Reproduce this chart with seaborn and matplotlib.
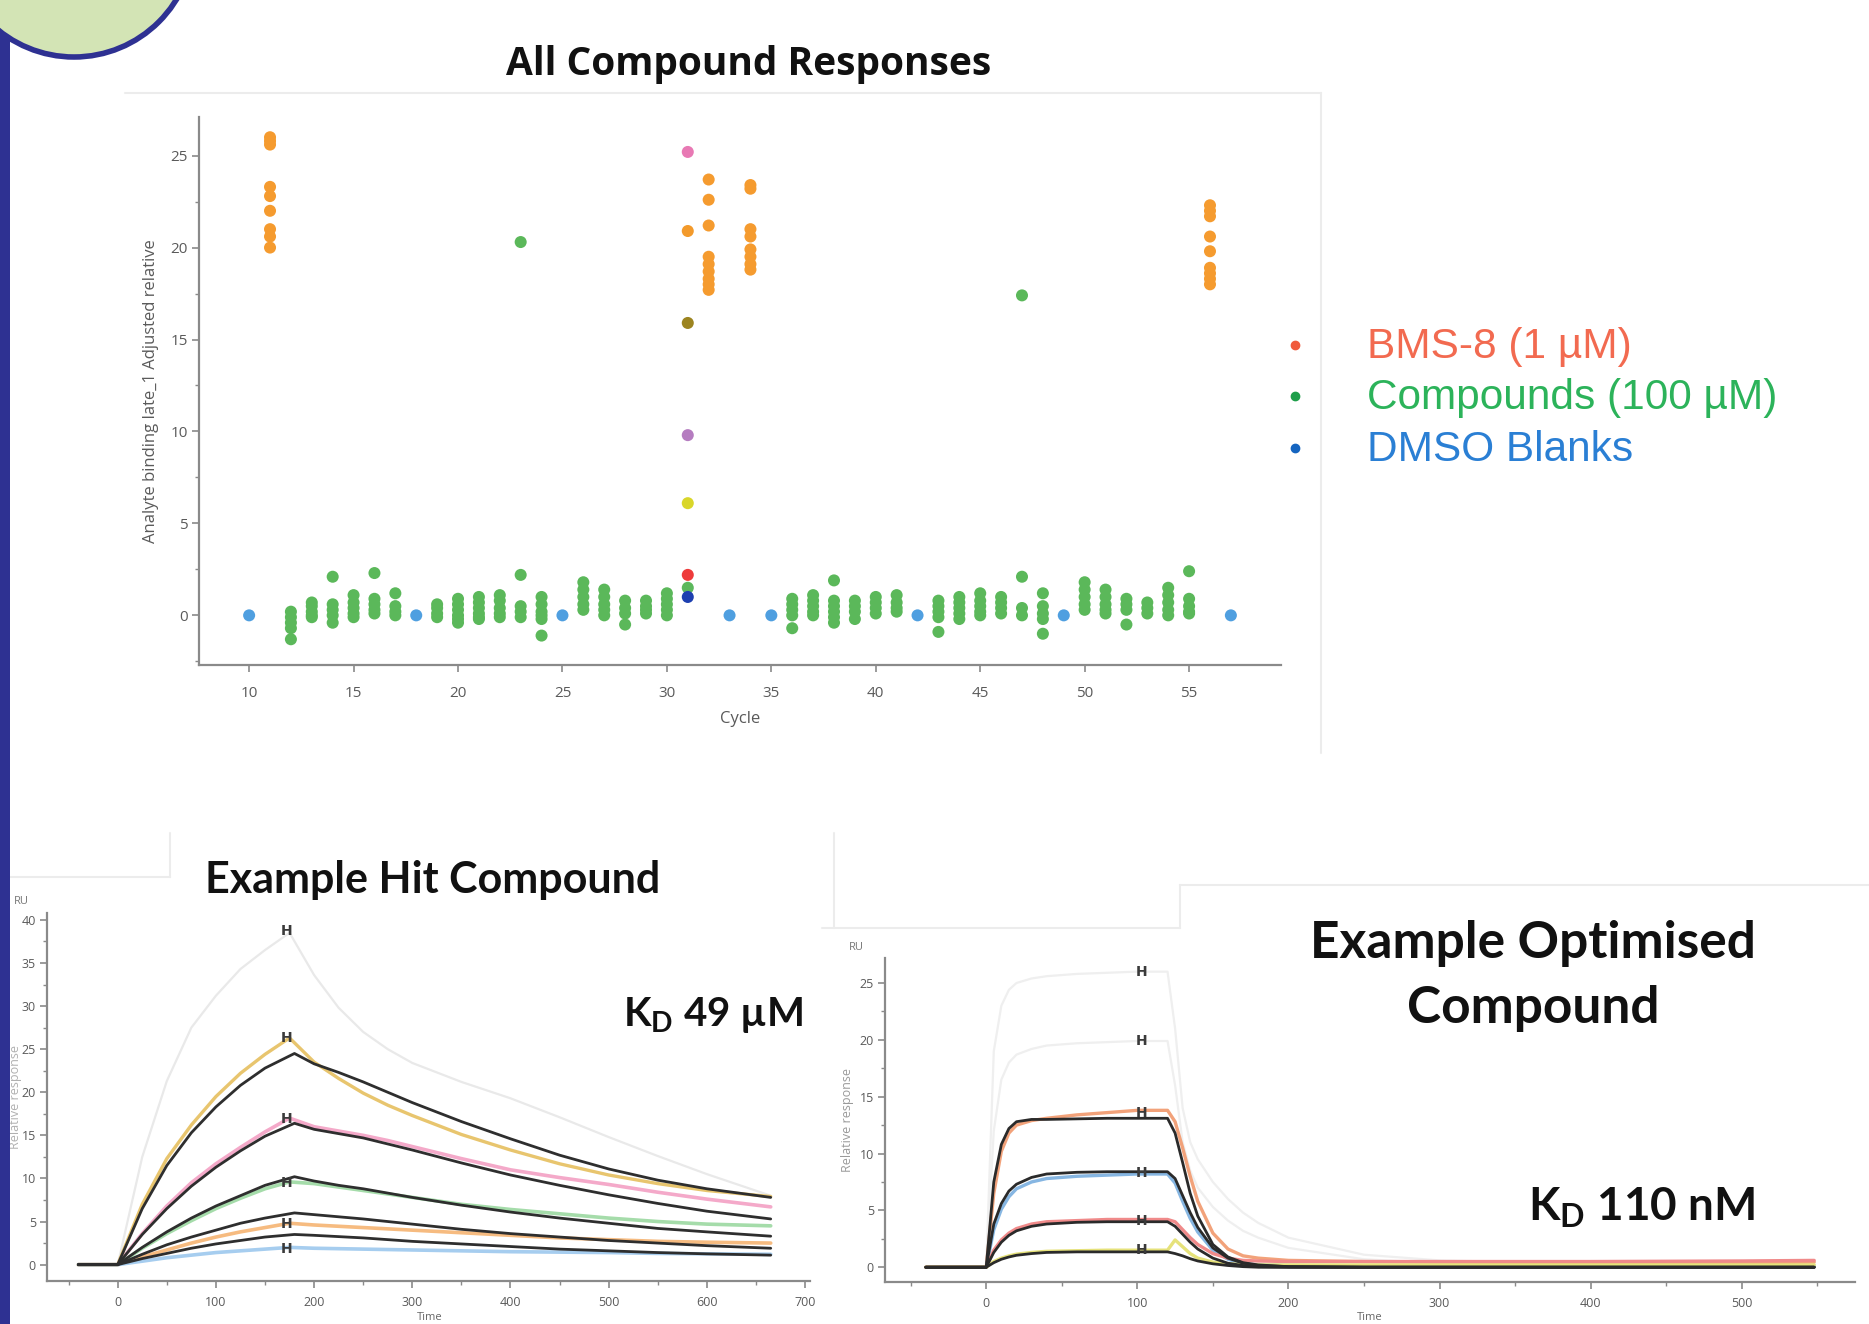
# All compound responses + two example sensorgrams (hit and optimised compound)

import numpy as np
import pandas as pd
import matplotlib
matplotlib.use('Agg')
import matplotlib.pyplot as plt
import seaborn as sns
from matplotlib.lines import Line2D
from matplotlib.patches import Circle, Rectangle
from matplotlib.transforms import IdentityTransform


# DATA: top scatter (cycle -> responses)
bms8_resp = {
    11: [26.0, 25.8, 25.6, 23.3, 22.8, 22.0, 21.0, 20.6, 20.0],
    32: [23.7, 22.6, 21.2, 19.5, 19.1, 18.7, 18.3, 18.0, 17.7],
    34: [23.4, 23.2, 21.0, 20.6, 19.9, 19.5, 19.1, 18.8],
    56: [22.3, 22.0, 21.7, 20.6, 19.8, 18.9, 18.6, 18.3, 18.0],
}
compound_resp = {
    12: [0.2, -0.1, -0.4, -0.7, -1.3], 13: [0.7, 0.5, 0.2, 0.0, -0.1],
    14: [2.1, 0.6, 0.3, 0.0, -0.4], 15: [1.1, 0.7, 0.4, 0.1, -0.1],
    16: [2.3, 0.9, 0.6, 0.3, 0.1], 17: [1.2, 0.5, 0.2, 0.0],
    19: [0.6, 0.4, 0.1, -0.1], 20: [0.9, 0.6, 0.3, 0.0, -0.2, -0.4],
    21: [1.0, 0.7, 0.4, 0.1, -0.1, -0.2], 22: [1.1, 0.8, 0.4, 0.1, -0.1],
    23: [20.3, 2.2, 0.5, 0.2, -0.1], 24: [1.0, 0.6, 0.2, 0.0, -0.2, -1.1],
    26: [1.8, 1.4, 1.0, 0.6, 0.3], 27: [1.4, 1.0, 0.6, 0.3, 0.0],
    28: [0.8, 0.4, 0.1, -0.5], 29: [0.8, 0.5, 0.3, 0.1],
    30: [1.2, 0.9, 0.6, 0.3, 0.0], 36: [0.9, 0.6, 0.3, 0.0, -0.7],
    37: [1.1, 0.8, 0.5, 0.2, 0.0], 38: [1.9, 0.8, 0.5, 0.2, -0.1, -0.4],
    39: [0.8, 0.5, 0.2, -0.2], 40: [1.0, 0.7, 0.4, 0.1],
    41: [1.1, 0.7, 0.4, 0.2], 43: [0.8, 0.5, 0.2, -0.1, -0.9],
    44: [1.0, 0.7, 0.4, 0.1, -0.2], 45: [1.2, 0.8, 0.5, 0.2, 0.0],
    46: [1.0, 0.7, 0.4, 0.1], 47: [17.4, 2.1, 0.4, 0.0],
    48: [1.2, 0.5, 0.1, -0.2, -1.0], 50: [1.8, 1.4, 1.0, 0.6, 0.3],
    51: [1.4, 1.0, 0.6, 0.3, 0.1], 52: [0.9, 0.6, 0.3, -0.5],
    53: [0.7, 0.4, 0.1], 54: [1.5, 1.1, 0.7, 0.3, 0.0],
    55: [2.4, 0.9, 0.5, 0.2, 0.1],
}
dmso_cycles = [10, 18, 25, 33, 35, 42, 49, 57]
dmso_resp = [0.0, 0.0, 0.0, 0.0, 0.0, 0.0, 0.0, 0.0]
c31_resp = [25.2, 20.9, 15.9, 9.8, 6.1, 2.2, 1.5, 1.0]
c31_colors = ['#e879b4', '#f39a2b', '#9c8420', '#b57cc0', '#d9d62a', '#ee3b3b', '#5cb85c', '#1d3fb0']

legend_labels = ['BMS-8 (1 µM)', 'Compounds (100 µM)', 'DMSO Blanks']
legend_dot = ['#f05a3c', '#1e9e4a', '#1565c0']
legend_txt = ['#f26a50', '#2cb35a', '#2a7fd4']

# DATA: example hit compound sensorgram
t_hit = [-40, 0, 25, 50, 75, 100, 125, 150, 175, 200, 225, 250, 275, 300, 350, 400, 450, 500, 550, 600, 665]
t_hit_fit = [-40, 0, 25, 50, 75, 100, 125, 150, 180, 200, 225, 250, 275, 300, 350, 400, 450, 500, 550, 600, 665]
hit_gray = [0, 0, 12.5, 21.3, 27.5, 31.2, 34.3, 36.5, 38.5, 33.6, 29.8, 27.0, 25.0, 23.4, 21.2, 19.3, 17.1, 14.8, 12.6, 10.5, 8.0]
hit_yellow = [0, 0, 7.0, 12.3, 16.2, 19.5, 22.2, 24.4, 26.3, 23.5, 21.6, 19.9, 18.5, 17.3, 15.1, 13.3, 11.7, 10.4, 9.4, 8.6, 7.9]
hit_pink = [0, 0, 3.6, 6.8, 9.5, 11.7, 13.6, 15.4, 17.0, 16.0, 15.5, 15.0, 14.4, 13.7, 12.3, 11.0, 10.1, 9.3, 8.4, 7.6, 6.7]
hit_green = [0, 0, 1.9, 3.6, 5.1, 6.5, 7.7, 8.8, 9.6, 9.4, 9.0, 8.6, 8.2, 7.8, 7.0, 6.4, 5.9, 5.4, 5.0, 4.7, 4.5]
hit_orange = [0, 0, 0.9, 1.7, 2.5, 3.2, 3.8, 4.3, 4.8, 4.6, 4.45, 4.3, 4.15, 4.0, 3.7, 3.4, 3.1, 2.9, 2.7, 2.6, 2.5]
hit_blue = [0, 0, 0.4, 0.8, 1.1, 1.4, 1.6, 1.8, 2.0, 1.9, 1.85, 1.8, 1.75, 1.7, 1.6, 1.5, 1.45, 1.4, 1.3, 1.25, 1.2]
hit_fit1 = [0, 0, 6.5, 11.5, 15.3, 18.3, 20.8, 22.8, 24.5, 23.3, 22.3, 21.2, 20.0, 18.8, 16.6, 14.6, 12.7, 11.1, 9.8, 8.8, 7.8]
hit_fit2 = [0, 0, 3.5, 6.5, 9.1, 11.3, 13.2, 14.9, 16.4, 15.7, 15.2, 14.7, 14.0, 13.3, 11.8, 10.4, 9.2, 8.1, 7.1, 6.2, 5.3]
hit_fit3 = [0, 0, 2.0, 3.8, 5.4, 6.8, 8.0, 9.2, 10.2, 9.7, 9.2, 8.8, 8.3, 7.8, 6.9, 6.1, 5.4, 4.8, 4.2, 3.8, 3.3]
hit_fit4 = [0, 0, 1.2, 2.3, 3.2, 4.0, 4.8, 5.4, 6.0, 5.8, 5.55, 5.3, 5.0, 4.7, 4.1, 3.6, 3.2, 2.8, 2.5, 2.2, 1.9]
hit_fit5 = [0, 0, 0.7, 1.3, 1.9, 2.4, 2.8, 3.2, 3.5, 3.4, 3.25, 3.1, 2.9, 2.7, 2.4, 2.1, 1.8, 1.6, 1.4, 1.25, 1.1]
hit_marks = [38.7, 26.3, 16.9, 9.5, 4.7, 1.8]

# DATA: example optimised compound sensorgram
t_opt = [-40, 0, 5, 10, 15, 20, 30, 40, 60, 80, 100, 120, 125, 130, 135, 140, 150, 160, 170, 180, 200, 250, 300, 400, 500, 548]
opt_gray1 = [0, 0, 19.0, 23.0, 24.4, 25.0, 25.4, 25.6, 25.8, 25.9, 26.0, 26.0, 21.0, 14.0, 11.0, 9.5, 7.5, 6.0, 4.8, 3.9, 2.6, 1.1, 0.6, 0.3, 0.25, 0.2]
opt_gray2 = [0, 0, 12.0, 16.5, 18.0, 18.7, 19.2, 19.5, 19.7, 19.8, 19.9, 19.9, 16.0, 11.0, 8.5, 7.0, 5.3, 4.1, 3.2, 2.6, 1.7, 0.7, 0.35, 0.2, 0.15, 0.1]
opt_orange = [0, 0, 6.5, 10.2, 11.8, 12.5, 12.9, 13.1, 13.4, 13.6, 13.8, 13.8, 12.8, 10.5, 8.0, 5.8, 3.0, 1.6, 1.0, 0.8, 0.6, 0.5, 0.45, 0.4, 0.4, 0.45]
opt_blue = [0, 0, 3.3, 5.1, 6.2, 6.9, 7.5, 7.8, 8.0, 8.1, 8.2, 8.2, 7.4, 5.8, 4.3, 3.1, 1.5, 0.7, 0.35, 0.2, 0.15, 0.1, 0.1, 0.1, 0.1, 0.1]
opt_red = [0, 0, 1.5, 2.4, 3.0, 3.4, 3.8, 4.0, 4.1, 4.2, 4.2, 4.2, 4.0, 3.3, 2.6, 2.0, 1.2, 0.8, 0.6, 0.55, 0.5, 0.5, 0.5, 0.5, 0.55, 0.6]
opt_yellow = [0, 0, 0.5, 0.8, 1.0, 1.15, 1.3, 1.4, 1.45, 1.5, 1.5, 1.5, 2.4, 1.8, 1.2, 0.8, 0.45, 0.3, 0.25, 0.2, 0.2, 0.2, 0.2, 0.2, 0.2, 0.2]
opt_fit1 = [0, 0, 7.5, 10.8, 12.2, 12.8, 13.0, 13.0, 13.05, 13.1, 13.1, 13.1, 11.8, 9.2, 6.5, 4.5, 2.0, 0.9, 0.4, 0.2, 0.05, 0, 0, 0, 0, 0]
opt_fit2 = [0, 0, 3.8, 5.6, 6.7, 7.3, 7.9, 8.2, 8.35, 8.4, 8.4, 8.4, 7.8, 6.3, 4.8, 3.5, 1.7, 0.8, 0.35, 0.15, 0.05, 0, 0, 0, 0, 0]
opt_fit3 = [0, 0, 1.3, 2.2, 2.8, 3.2, 3.6, 3.8, 3.95, 4.0, 4.0, 4.0, 3.6, 2.9, 2.2, 1.6, 0.8, 0.35, 0.15, 0.05, 0, 0, 0, 0, 0, 0]
opt_fit4 = [0, 0, 0.4, 0.7, 0.9, 1.05, 1.2, 1.3, 1.35, 1.35, 1.35, 1.35, 1.2, 1.0, 0.75, 0.55, 0.3, 0.15, 0.05, 0, 0, 0, 0, 0, 0, 0]
opt_marks = [26.0, 19.9, 13.6, 8.3, 4.1, 1.5]


# STYLE
sns.set_theme(style='white')
plt.rcParams['font.family'] = ['Open Sans', 'DejaVu Sans']
plt.rcParams['mathtext.fontset'] = 'custom'
plt.rcParams['mathtext.rm'] = 'Lato:bold'
plt.rcParams['mathtext.it'] = 'Lato:bold'
plt.rcParams['mathtext.bf'] = 'Lato:bold'
plt.rcParams['mathtext.default'] = 'rm'

W, H = 1869, 1324
fig = plt.figure(figsize=(W / 100, H / 100), dpi=100)
fig.patch.set_facecolor('white')


def box(left, top, right, bottom):
    # figure-fraction rectangle from pixel edges (top-left origin)
    return [left / W, 1 - bottom / H, (right - left) / W, (bottom - top) / H]


def style_axis(ax, tick_size, xpad=3):
    for s in ['top', 'right']:
        ax.spines[s].set_visible(False)
    for s in ['left', 'bottom']:
        ax.spines[s].set_color('#8a8a8a')
        ax.spines[s].set_linewidth(1.6)
    ax.tick_params(which='major', direction='out', length=5, width=1.2, color='#8a8a8a',
                   labelsize=tick_size, labelcolor='#5a5a5a', pad=3, bottom=True, left=True)
    ax.tick_params(axis='x', which='major', pad=xpad)
    ax.tick_params(which='minor', direction='out', length=3, width=1, color='#8a8a8a', bottom=True, left=True)
    ax.set_facecolor('white')


# TOP: all compound responses
rows = []
for c, vals in compound_resp.items():
    for v in vals:
        rows.append((c, v, 'Compounds'))
for c, v in zip(dmso_cycles, dmso_resp):
    rows.append((c, v, 'DMSO'))
for c, vals in bms8_resp.items():
    for v in vals:
        rows.append((c, v, 'BMS-8'))
for i, v in enumerate(c31_resp):
    rows.append((31, v, 'c31_%d' % i))
df_top = pd.DataFrame(rows, columns=['cycle', 'response', 'group'])

palette = {'Compounds': '#5bb85a', 'DMSO': '#4f9fe0', 'BMS-8': '#f59b2f'}
for i, col in enumerate(c31_colors):
    palette['c31_%d' % i] = col

ax_top = fig.add_axes(box(199, 117, 1281, 665))
sns.scatterplot(data=df_top, x='cycle', y='response', hue='group', palette=palette,
                s=75, linewidth=0, legend=False, ax=ax_top)
ax_top.set_xlim(7.6, 59.4)
ax_top.set_ylim(-2.7, 27.1)
ax_top.set_xticks(range(10, 56, 5))
ax_top.set_yticks(range(0, 26, 5))
ax_top.set_yticks(np.arange(-2.5, 27, 2.5), minor=True)
style_axis(ax_top, 11, xpad=10)
ax_top.set_xlabel('Cycle', fontsize=12, color='#5a5a5a', labelpad=7)
ax_top.set_ylabel('Analyte binding late_1 Adjusted relative', fontsize=12, color='#5a5a5a', labelpad=8)

fig.text(749 / W, 1 - 64 / H, 'All Compound Responses', ha='center', va='center',
         fontsize=28, fontweight='bold', color='#111111')

# legend drawn by hand to the right of the scatter
for lab, dc, tc, y in zip(legend_labels, legend_dot, legend_txt, [345, 396, 448]):
    fig.add_artist(Line2D([1295], [H - y], marker='o', ls='', markersize=6,
                          color=dc, transform=IdentityTransform()))
    fig.text(1367 / W, 1 - (y + 2) / H, lab, ha='left', va='center', fontsize=30.5,
             color=tc, family='Liberation Sans')

# BOTTOM LEFT: example hit compound
ax_hit = fig.add_axes(box(47, 913, 810, 1281))
hit_data = [(hit_gray, '#e9e9e9', 1.6), (hit_yellow, '#e8c56e', 2.4), (hit_pink, '#f4a9c9', 2.6),
            (hit_green, '#a5dcaa', 2.6), (hit_orange, '#f6bb80', 2.6), (hit_blue, '#a6cdef', 2.6)]
for vals, col, lw in hit_data:
    sns.lineplot(x=t_hit, y=vals, color=col, lw=lw, ax=ax_hit)
for vals in [hit_fit1, hit_fit2, hit_fit3, hit_fit4, hit_fit5]:
    sns.lineplot(x=t_hit_fit, y=vals, color='#2e2e2e', lw=2.0, ax=ax_hit)
for m in hit_marks:
    ax_hit.text(172, m, 'H', ha='center', va='center', fontsize=10, fontweight='bold',
                color='#3a3a3a', family='DejaVu Sans')
ax_hit.set_xlim(-72, 705)
ax_hit.set_ylim(-1.9, 40.8)
ax_hit.set_xticks(range(0, 701, 100))
ax_hit.set_xticks(range(-50, 701, 50), minor=True)
ax_hit.set_yticks(range(0, 41, 5))
ax_hit.set_yticks(np.arange(0, 41, 2.5), minor=True)
style_axis(ax_hit, 9, xpad=6)
ax_hit.set_ylabel('Relative response', fontsize=9, color='#b0b0b0', labelpad=0)
fig.text(14 / W, 1 - 902 / H, 'RU', fontsize=8, color='#777777', va='center')
fig.text(430 / W, 0.001, 'Time', fontsize=8, color='#666666', ha='center', va='bottom')

fig.text(433 / W, 1 - 880 / H, 'Example Hit Compound', ha='center', va='center',
         fontsize=31, fontweight='bold', family='Lato', color='#111111')
fig.text(713 / W, 1 - 1015 / H, r'K$_{D}$ 49 µM', ha='center', va='center',
         fontsize=29, fontweight='bold', family='Lato', color='#111111')

# BOTTOM RIGHT: example optimised compound
ax_opt = fig.add_axes(box(885, 958, 1855, 1282))
opt_data = [(opt_gray1, '#efefef', 1.6), (opt_gray2, '#efefef', 1.6), (opt_orange, '#f2a27a', 2.4),
            (opt_blue, '#86b6e2', 2.4), (opt_red, '#f08a8a', 2.4), (opt_yellow, '#e6e27a', 2.4)]
for vals, col, lw in opt_data:
    sns.lineplot(x=t_opt, y=vals, color=col, lw=lw, ax=ax_opt)
for vals in [opt_fit1, opt_fit2, opt_fit3, opt_fit4]:
    sns.lineplot(x=t_opt, y=vals, color='#2a2a2a', lw=2.0, ax=ax_opt)
for m in opt_marks:
    ax_opt.text(103, m, 'H', ha='center', va='center', fontsize=10, fontweight='bold',
                color='#3a3a3a', family='DejaVu Sans')
ax_opt.set_xlim(-67, 575)
ax_opt.set_ylim(-1.3, 27.2)
ax_opt.set_xticks(range(0, 501, 100))
ax_opt.set_xticks(range(-50, 551, 50), minor=True)
ax_opt.set_yticks(range(0, 26, 5))
ax_opt.set_yticks(np.arange(0, 27, 2.5), minor=True)
style_axis(ax_opt, 9, xpad=6)
ax_opt.set_ylabel('Relative response', fontsize=9, color='#9a9a9a', labelpad=4)
fig.text(849 / W, 1 - 948 / H, 'RU', fontsize=8, color='#777777', va='center')
fig.text(1370 / W, 0.001, 'Time', fontsize=8, color='#666666', ha='center', va='bottom')

fig.text(1533 / W, 1 - 976 / H, 'Example Optimised\nCompound', ha='center', va='center',
         fontsize=37, fontweight='bold', family='Lato', color='#111111', linespacing=1.45)
fig.text(1642 / W, 1 - 1208 / H, r'K$_{D}$ 110 nM', ha='center', va='center',
         fontsize=33, fontweight='bold', family='Lato', color='#111111')

# faint panel edges left over from the pasted screenshots
edge = '#ececec'
for xs, ys in [([125, 1321], [93, 93]), ([1321, 1321], [93, 753]),
               ([0, 170], [877, 877]), ([170, 170], [833, 877]),
               ([834, 834], [833, 928]), ([822, 1180], [928, 928]),
               ([1180, 1180], [885, 928]), ([1180, 1869], [885, 885])]:
    fig.add_artist(Line2D(xs, [H - y for y in ys], color=edge, lw=1.5,
                          transform=IdentityTransform(), zorder=0))

# slide decoration: navy bar + green circle in the corner
fig.add_artist(Rectangle((0, 0), 10, H, facecolor='#2e3192', edgecolor='none',
                         transform=IdentityTransform(), zorder=10))
fig.add_artist(Circle((74, H + 63), 120, facecolor='#d3e4b5', edgecolor='#2e3192', lw=4,
                      transform=IdentityTransform(), zorder=11))

plt.savefig('out.png', dpi=100, facecolor='white')
plt.close()
